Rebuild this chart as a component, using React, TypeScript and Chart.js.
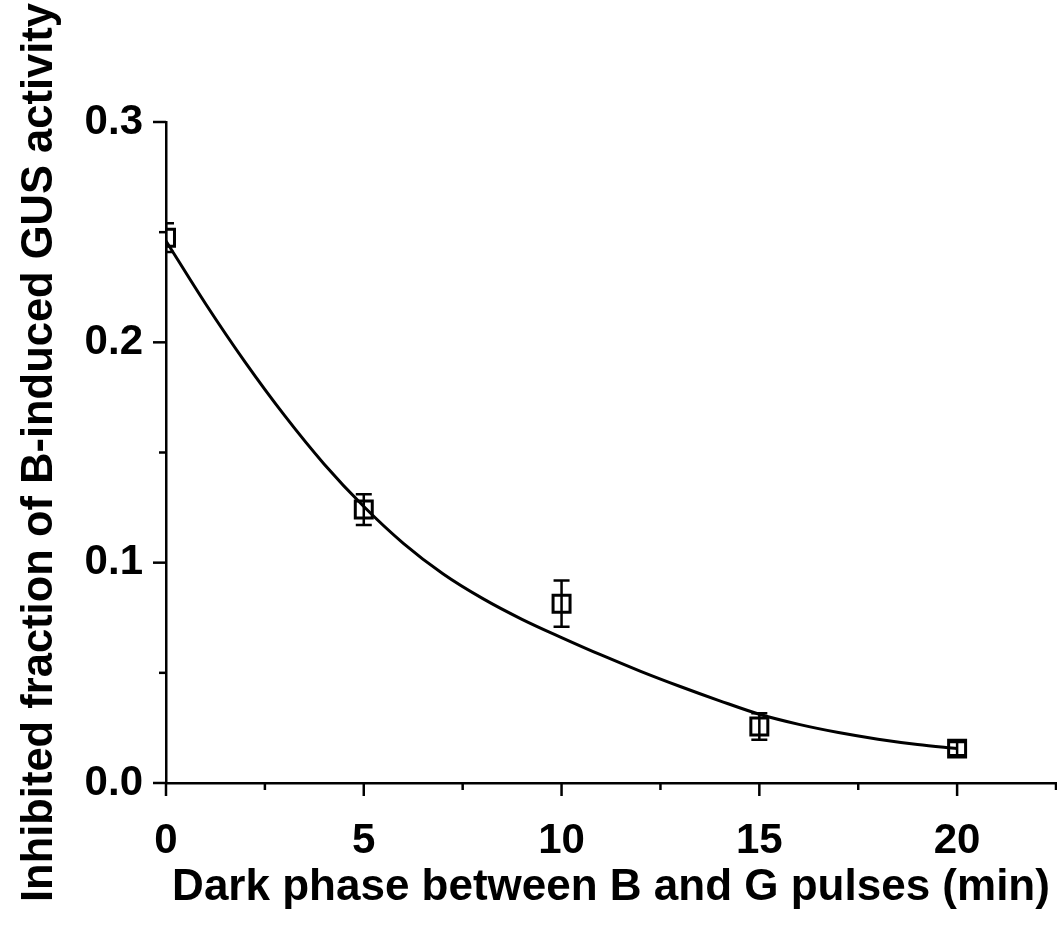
import React, { useEffect, useRef } from 'react';
import { Chart, registerables } from 'chart.js';

Chart.register(...registerables);

// Measured data points (mean ± error)
const pointX = [0, 5, 10, 15, 20];
const pointY = [0.2475, 0.1241, 0.0814, 0.0256, 0.0156];
const pointErr = [0.0065, 0.007, 0.0105, 0.006, 0.003];

// Fitted curve
const curveX = [0, 1, 2, 3, 4, 5, 6, 7, 8, 9, 10, 11, 12, 13, 14, 15, 16, 17, 18, 19, 20];
const curveY = [
  0.246, 0.2175, 0.191, 0.1667, 0.1447, 0.1255, 0.1088, 0.095, 0.0838, 0.0743, 0.066,
  0.0581, 0.0507, 0.0438, 0.0373, 0.0312, 0.0266, 0.0229, 0.0199, 0.0175, 0.0157,
];

const xMajorTicks = [0, 5, 10, 15, 20];
const xMinorTicks = [2.5, 7.5, 12.5, 17.5, 22.5];
const xTickLabels = ['0', '5', '10', '15', '20'];
const yMajorTicks = [0, 0.1, 0.2, 0.3];
const yMinorTicks = [0.05, 0.15, 0.25];
const yTickLabels = ['0.0', '0.1', '0.2', '0.3'];

const xTitle = 'Dark phase between B and G pulses (min)';
const yTitle = 'Inhibited fraction of B-induced GUS activity';

const FONT = '"Liberation Sans", Arial, Helvetica, sans-serif';

const ticksAndErrors = {
  id: 'ticksAndErrors',
  afterDatasetsDraw(chart: any) {
    const { ctx, chartArea, scales } = chart;
    const xs = scales.x;
    const ys = scales.y;
    ctx.save();
    ctx.strokeStyle = '#000';
    ctx.lineWidth = 2.5;
    ctx.lineCap = 'butt';
    const left = chartArea.left;
    const bottom = chartArea.bottom;
    const drawY = (v: number, len: number) => {
      const p = ys.getPixelForValue(v);
      ctx.beginPath();
      ctx.moveTo(left - len, p);
      ctx.lineTo(left, p);
      ctx.stroke();
    };
    const drawX = (v: number, len: number) => {
      const p = xs.getPixelForValue(v);
      ctx.beginPath();
      ctx.moveTo(p, bottom);
      ctx.lineTo(p, bottom + len);
      ctx.stroke();
    };
    yMajorTicks.forEach((v) => drawY(v, 13));
    yMinorTicks.forEach((v) => drawY(v, 7));
    xMajorTicks.forEach((v) => drawX(v, 13));
    xMinorTicks.forEach((v) => drawX(v, 7));

    // error bars
    ctx.beginPath();
    ctx.rect(chartArea.left, chartArea.top - 2, chartArea.right - chartArea.left + 2, chartArea.bottom - chartArea.top + 2);
    ctx.clip();
    ctx.lineWidth = 2.5;
    for (let i = 0; i < pointX.length; i++) {
      const px = xs.getPixelForValue(pointX[i]);
      const top = ys.getPixelForValue(pointY[i] + pointErr[i]);
      const bot = ys.getPixelForValue(pointY[i] - pointErr[i]);
      const cap = 8;
      ctx.beginPath();
      ctx.moveTo(px, top);
      ctx.lineTo(px, bot);
      ctx.moveTo(px - cap, top);
      ctx.lineTo(px + cap, top);
      ctx.moveTo(px - cap, bot);
      ctx.lineTo(px + cap, bot);
      ctx.stroke();
    }
    ctx.restore();
  },
};

export default function App() {
  const canvasRef = useRef<HTMLCanvasElement | null>(null);

  useEffect(() => {
    document.body.style.margin = '0';
    const canvas = canvasRef.current;
    if (!canvas) return;
    const chart = new Chart(canvas, {
      type: 'line',
      data: {
        datasets: [
          {
            label: 'fit',
            data: curveX.map((x, i) => ({ x, y: curveY[i] })),
            borderColor: '#000',
            borderWidth: 3,
            pointRadius: 0,
            fill: false,
            cubicInterpolationMode: 'monotone',
          },
          {
            label: 'data',
            data: pointX.map((x, i) => ({ x, y: pointY[i] })),
            showLine: false,
            pointStyle: 'rect',
            pointRadius: 12,
            pointBorderWidth: 3,
            pointBorderColor: '#000',
            pointBackgroundColor: 'rgba(0,0,0,0)',
            borderColor: '#000',
          },
        ],
      },
      options: {
        responsive: false,
        animation: false,
        layout: { autoPadding: false, padding: { top: 122, right: 1, left: 0, bottom: 0 } },
        plugins: {
          legend: { display: false },
          tooltip: { enabled: false },
        },
        scales: {
          x: {
            type: 'linear',
            min: 0,
            max: 22.5,
            afterBuildTicks: (s: any) => {
              s.ticks = [...xMajorTicks, ...xMinorTicks].sort((a, b) => a - b).map((v) => ({ value: v }));
            },
            afterFit: (s: any) => {
              s.height = 148;
              s.paddingRight = 0;
              s.paddingLeft = 0;
            },
            ticks: {
              autoSkip: false,
              maxRotation: 0,
              padding: 0,
              color: '#000',
              font: { family: FONT, size: 42, weight: 'bold' },
              callback: (v: any) => {
                const i = xMajorTicks.indexOf(Number(v));
                return i >= 0 ? xTickLabels[i] : '';
              },
            },
            grid: { display: true, drawOnChartArea: false, drawTicks: true, tickLength: 33, color: 'rgba(0,0,0,0)' },
            border: { display: true, color: '#000', width: 2.5 },
            title: {
              display: true,
              text: xTitle,
              color: '#000',
              font: { family: FONT, size: 44, weight: 'bold', lineHeight: 1 },
              padding: { top: 0, bottom: 21 },
            },
          },
          y: {
            type: 'linear',
            min: 0,
            max: 0.3,
            afterBuildTicks: (s: any) => {
              s.ticks = [...yMajorTicks, ...yMinorTicks].sort((a, b) => a - b).map((v) => ({ value: v }));
            },
            afterFit: (s: any) => {
              s.width = 166;
            },
            ticks: {
              autoSkip: false,
              padding: 10,
              color: '#000',
              font: { family: FONT, size: 42, weight: 'bold' },
              callback: (v: any) => {
                const i = yMajorTicks.indexOf(Number(v));
                return i >= 0 ? yTickLabels[i] : '';
              },
            },
            grid: { display: true, drawOnChartArea: false, drawTicks: true, tickLength: 13, color: 'rgba(0,0,0,0)' },
            border: { display: true, color: '#000', width: 2.5 },
            title: {
              display: true,
              text: yTitle,
              color: '#000',
              font: { family: FONT, size: 43.5, weight: 'bold', lineHeight: 1 },
              padding: { top: 18, bottom: 0 },
            },
          },
        },
      } as any,
      plugins: [ticksAndErrors],
    });
    return () => {
      chart.destroy();
    };
  }, []);

  return (
    <div style={{ width: 1057, height: 931, position: 'relative', background: '#fff' }}>
      <canvas ref={canvasRef} width={1057} height={931} style={{ width: 1057, height: 931, display: 'block' }} />
    </div>
  );
}
